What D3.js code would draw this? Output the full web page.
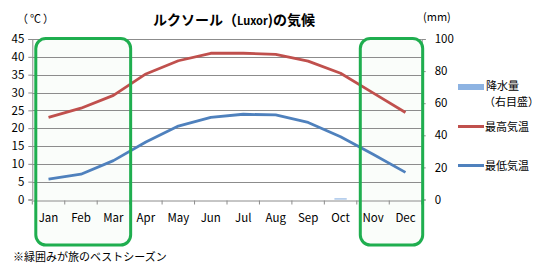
<!DOCTYPE html>
<html>
<head>
<meta charset="utf-8">
<script src="https://cdn.jsdelivr.net/npm/d3@7"></script>
<style>
  body { margin: 0; background: #fff; }
  text { font-family: "Noto Sans CJK JP", "DejaVu Sans", sans-serif; fill: #000; }
</style>
</head>
<body>
<div id="chart"></div>
<script>
var months = ["Jan", "Feb", "Mar", "Apr", "May", "Jun", "Jul", "Aug", "Sep", "Oct", "Nov", "Dec"];
var highTemp = [23.0, 25.6, 29.2, 35.2, 38.9, 41.0, 41.0, 40.7, 38.8, 35.4, 29.9, 24.4];
var lowTemp = [5.7, 7.1, 10.9, 16.1, 20.6, 23.0, 23.9, 23.7, 21.6, 17.6, 12.7, 7.6];
var rainfall = [0, 0, 0, 0, 0, 0, 0, 0, 0, 0.7, 0, 0];
var tempTicks = [0, 5, 10, 15, 20, 25, 30, 35, 40, 45];
var rainTicks = [0, 20, 40, 60, 80, 100];
var bestSeasons = [["Jan", "Mar"], ["Nov", "Dec"]];

var w = 539, h = 279;
var plotL = 32.3, plotR = 421.7, plotT = 39, plotB = 199.5;

var svg = d3.select("#chart")
    .append("svg")
    .attr("width", w)
    .attr("height", h);

var x = d3.scaleBand().domain(months).range([plotL, plotR]).paddingInner(0).paddingOuter(0);
var yT = d3.scaleLinear().domain([0, 45]).range([plotB, plotT]);
var yR = d3.scaleLinear().domain([0, 100]).range([plotB, plotT]);

// best season boxes (faint fill)
svg.selectAll(".season")
    .data(bestSeasons)
    .enter()
    .append("rect")
    .attr("class", "season")
    .attr("x", function(d) { return x(d[0]) + 3.5; })
    .attr("y", yT(45) - 0.5)
    .attr("width", function(d) { return x(d[1]) + x.bandwidth() - x(d[0]) - 2.5; })
    .attr("height", 245 - yT(45) + 0.5)
    .attr("rx", 10)
    .attr("fill", "#fafdfa")
    .attr("stroke", "none");

// gridlines
svg.selectAll(".grid")
    .data(tempTicks.slice(1))
    .enter()
    .append("line")
    .attr("x1", plotL)
    .attr("x2", plotR)
    .attr("y1", function(d) { return Math.round(yT(d)) + 0.5; })
    .attr("y2", function(d) { return Math.round(yT(d)) + 0.5; })
    .attr("stroke", "#8c8c8c")
    .attr("stroke-width", 1);

// left axis
var gl = svg.append("g")
    .attr("transform", "translate(" + plotL + ",0)")
    .call(d3.axisLeft(yT).tickValues(tempTicks).tickSize(4).tickPadding(4));
gl.select(".domain").attr("stroke", "#8c8c8c");
gl.selectAll(".tick line").attr("stroke", "#8c8c8c");
gl.selectAll("text").attr("font-size", "11.5px").attr("fill", "#000");

// right axis
var gr = svg.append("g")
    .attr("transform", "translate(" + plotR + ",0)")
    .call(d3.axisRight(yR).tickValues(rainTicks).tickSize(4).tickPadding(9));
gr.select(".domain").attr("stroke", "#8c8c8c");
gr.selectAll(".tick line").attr("stroke", "#8c8c8c");
gr.selectAll("text").attr("font-size", "11.5px").attr("fill", "#000");

// bottom axis
var gb = svg.append("g")
    .attr("transform", "translate(0," + (Math.round(plotB) + 0.5) + ")")
    .call(d3.axisBottom(x).tickSize(0).tickPadding(13));
gb.select(".domain").attr("stroke", "#8c8c8c");
gb.selectAll("text").attr("font-size", "11.5px").attr("fill", "#000");
gb.selectAll(".sep")
    .data(months.concat(["end"]))
    .enter()
    .append("line")
    .attr("x1", function(d, i) { return plotL + i * x.step(); })
    .attr("x2", function(d, i) { return plotL + i * x.step(); })
    .attr("y1", 0)
    .attr("y2", 4)
    .attr("stroke", "#8c8c8c");

// rainfall bars
var xb = d3.scaleBand().domain(months).range([plotL, plotR]).paddingInner(0.62).paddingOuter(0.31);
svg.selectAll(".bar")
    .data(rainfall)
    .enter()
    .append("rect")
    .attr("class", "bar")
    .attr("x", function(d, i) { return xb(months[i]); })
    .attr("y", function(d) { return yR(d); })
    .attr("width", xb.bandwidth())
    .attr("height", function(d) { return yR(0) - yR(d); })
    .attr("fill", "#8db3e2");

// lines
var line = function(data) {
    return d3.line()
        .x(function(d, i) { return x(months[i]) + x.bandwidth() / 2; })
        .y(function(d) { return yT(d); })(data);
};
svg.append("path")
    .attr("d", line(highTemp))
    .attr("fill", "none")
    .attr("stroke", "#c0504d")
    .attr("stroke-width", 2.8)
    .attr("stroke-linejoin", "round");
svg.append("path")
    .attr("d", line(lowTemp))
    .attr("fill", "none")
    .attr("stroke", "#4f81bd")
    .attr("stroke-width", 2.8)
    .attr("stroke-linejoin", "round");

// season box outlines
svg.selectAll(".seasonLine")
    .data(bestSeasons)
    .enter()
    .append("rect")
    .attr("x", function(d) { return x(d[0]) + 3.5; })
    .attr("y", yT(45) - 0.5)
    .attr("width", function(d) { return x(d[1]) + x.bandwidth() - x(d[0]) - 2.5; })
    .attr("height", 245 - yT(45) + 0.5)
    .attr("rx", 10)
    .attr("fill", "none")
    .attr("stroke", "#1fae4f")
    .attr("stroke-width", 3);

// titles
svg.append("text")
    .attr("x", 153)
    .attr("y", 25)
    .attr("font-size", "14px")
    .attr("font-weight", "bold")
    .html('ルクソール（<tspan font-size="11px">Luxor</tspan>)の気候');
svg.append("text")
    .attr("x", 17)
    .attr("y", 23)
    .attr("font-size", "11px")
    .attr("letter-spacing", "2px")
    .text("（℃）");
svg.append("text")
    .attr("x", 423)
    .attr("y", 21)
    .attr("font-size", "11px")
    .text("(mm)");
svg.append("text")
    .attr("x", 13)
    .attr("y", 261)
    .attr("font-size", "11px")
    .text("※緑囲みが旅のベストシーズン");

// legend
var legend = svg.append("g");
legend.append("rect")
    .attr("x", 458).attr("y", 84).attr("width", 26).attr("height", 6)
    .attr("fill", "#8db3e2");
legend.append("text").attr("x", 486).attr("y", 90).attr("font-size", "11px").text("降水量");
legend.append("text").attr("x", 484).attr("y", 106).attr("font-size", "11px").text("（右目盛）");
legend.append("line")
    .attr("x1", 458).attr("x2", 484).attr("y1", 126.5).attr("y2", 126.5)
    .attr("stroke", "#c0504d").attr("stroke-width", 3);
legend.append("text").attr("x", 485).attr("y", 131).attr("font-size", "11px").text("最高気温");
legend.append("line")
    .attr("x1", 458).attr("x2", 484).attr("y1", 165.5).attr("y2", 165.5)
    .attr("stroke", "#4f81bd").attr("stroke-width", 3);
legend.append("text").attr("x", 485).attr("y", 170).attr("font-size", "11px").text("最低気温");
</script>
</body>
</html>
